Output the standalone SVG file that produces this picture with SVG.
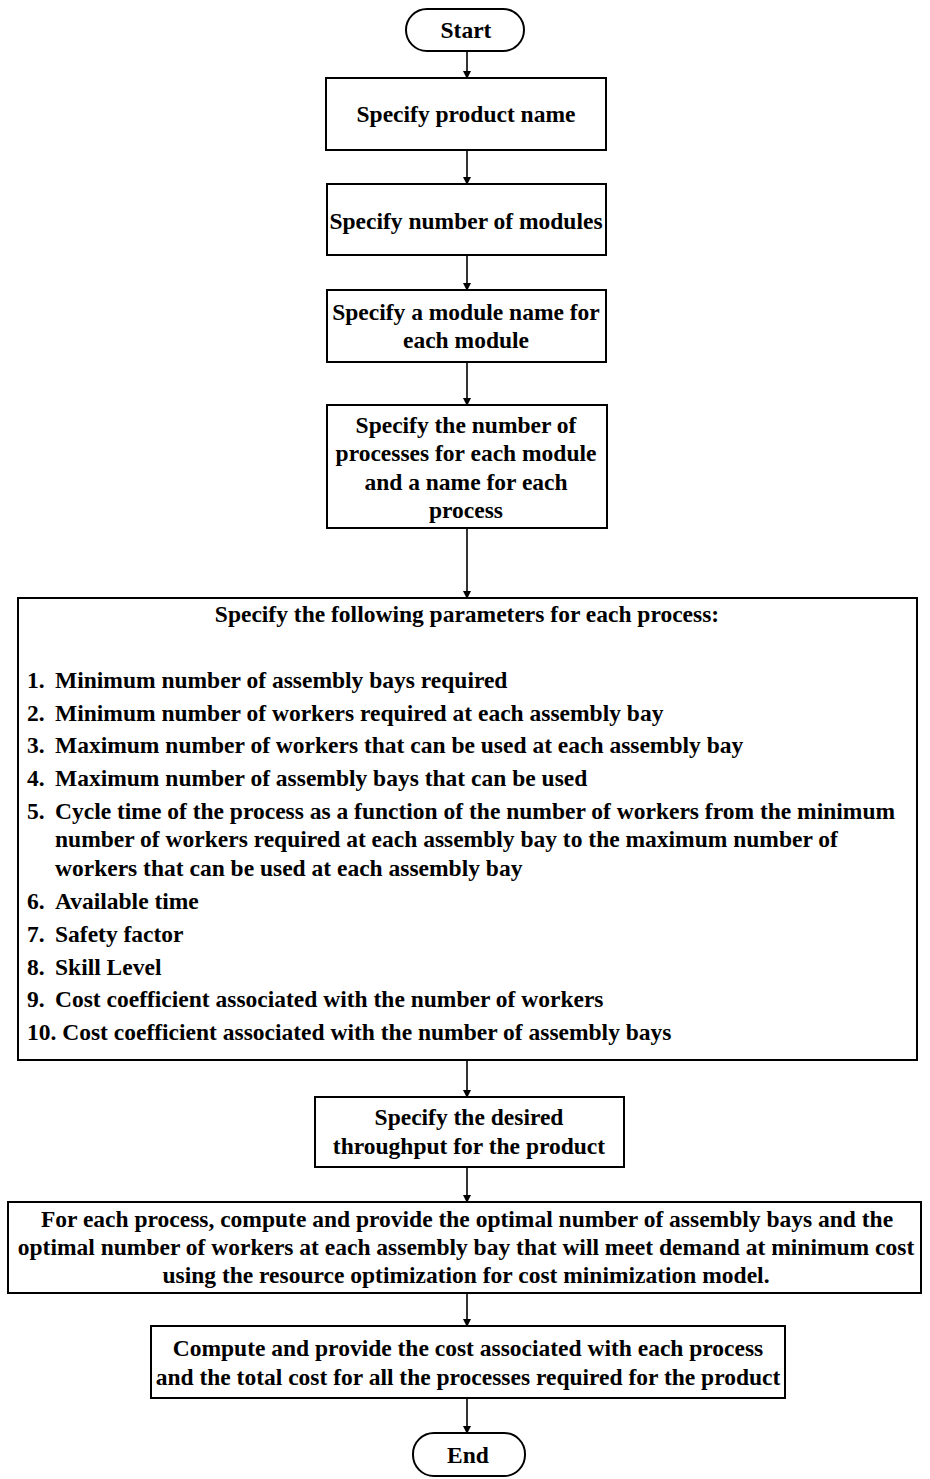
<svg xmlns="http://www.w3.org/2000/svg" width="930" height="1479" viewBox="0 0 930 1479">
  <style>
    .box { fill: #fff; stroke: #000; stroke-width: 2; }
    .t { font-family: "Liberation Serif", "Times New Roman", serif; font-weight: bold; font-size: 23.5px; fill: #000; }
    .c { text-anchor: middle; }
    .link { stroke: #000; stroke-width: 1.6; fill: none; marker-end: url(#arrow); }
  </style>
  <defs>
    <marker id="arrow" markerWidth="8" markerHeight="9" refX="7" refY="4.5" orient="auto" markerUnits="userSpaceOnUse">
      <path d="M0,0.5 L8,4.5 L0,8.5 Z" fill="#000"/>
    </marker>
  </defs>
  <rect width="930" height="1479" fill="#fff"/>

  <g id="connectors">
    <line class="link" x1="467" y1="51" x2="467" y2="78"/>
    <line class="link" x1="467" y1="150" x2="467" y2="184"/>
    <line class="link" x1="467" y1="255" x2="467" y2="290"/>
    <line class="link" x1="467" y1="362" x2="467" y2="405"/>
    <line class="link" x1="467" y1="528" x2="467" y2="598"/>
    <line class="link" x1="467" y1="1060" x2="467" y2="1097"/>
    <line class="link" x1="467" y1="1167" x2="467" y2="1202"/>
    <line class="link" x1="467" y1="1293" x2="467" y2="1326"/>
    <line class="link" x1="467" y1="1398" x2="467" y2="1433"/>
  </g>

  <g id="start">
    <rect class="box" x="406" y="9" width="118" height="42" rx="21" ry="21"/>
    <text class="t c" x="466" y="38">Start</text>
  </g>

  <g id="product-name">
    <rect class="box" x="326" y="78" width="280" height="72"/>
    <text class="t c" x="466" y="122">Specify product name</text>
  </g>

  <g id="module-count">
    <rect class="box" x="327" y="184" width="279" height="71"/>
    <text class="t c" x="466" y="229">Specify number of modules</text>
  </g>

  <g id="module-names">
    <rect class="box" x="327" y="290" width="279" height="72"/>
    <text class="t c" x="466" y="320">Specify a module name for</text>
    <text class="t c" x="466" y="348">each module</text>
  </g>

  <g id="process-names">
    <rect class="box" x="327" y="405" width="280" height="123"/>
    <text class="t c" x="466" y="433">Specify the number of</text>
    <text class="t c" x="466" y="461">processes for each module</text>
    <text class="t c" x="466" y="490">and a name for each</text>
    <text class="t c" x="466" y="518">process</text>
  </g>

  <g id="process-parameters">
    <rect class="box" x="18" y="598" width="899" height="462"/>
    <text class="t c" x="467" y="622">Specify the following parameters for each process:</text>
    <text class="t" y="688"><tspan x="27">1.</tspan><tspan x="55">Minimum number of assembly bays required</tspan></text>
    <text class="t" y="721"><tspan x="27">2.</tspan><tspan x="55">Minimum number of workers required at each assembly bay</tspan></text>
    <text class="t" y="753"><tspan x="27">3.</tspan><tspan x="55">Maximum number of workers that can be used at each assembly bay</tspan></text>
    <text class="t" y="786"><tspan x="27">4.</tspan><tspan x="55">Maximum number of  assembly bays that can be used</tspan></text>
    <text class="t" y="819"><tspan x="27">5.</tspan><tspan x="55">Cycle time of the process as a function of the number of workers from the minimum</tspan></text>
    <text class="t" x="55" y="847">number of workers required at each assembly bay to the maximum number of</text>
    <text class="t" x="55" y="876">workers that can be used at each assembly bay</text>
    <text class="t" y="909"><tspan x="27">6.</tspan><tspan x="55">Available time</tspan></text>
    <text class="t" y="942"><tspan x="27">7.</tspan><tspan x="55">Safety factor</tspan></text>
    <text class="t" y="975"><tspan x="27">8.</tspan><tspan x="55">Skill Level</tspan></text>
    <text class="t" y="1007"><tspan x="27">9.</tspan><tspan x="55">Cost coefficient associated with the number of workers</tspan></text>
    <text class="t" x="27" y="1040">10. Cost coefficient associated with the number of assembly bays</text>
  </g>

  <g id="throughput">
    <rect class="box" x="315" y="1097" width="309" height="70"/>
    <text class="t c" x="469" y="1125">Specify the desired</text>
    <text class="t c" x="469" y="1154">throughput for the product</text>
  </g>

  <g id="optimization">
    <rect class="box" x="8" y="1202" width="913" height="91"/>
    <text class="t c" x="467" y="1227">For each process, compute and provide the optimal number of assembly bays and the</text>
    <text class="t c" x="466" y="1255">optimal number of workers at each assembly bay that will meet demand at minimum cost</text>
    <text class="t c" x="466" y="1283">using the resource optimization for cost minimization model.</text>
  </g>

  <g id="cost-report">
    <rect class="box" x="151" y="1326" width="634" height="72"/>
    <text class="t c" x="468" y="1356">Compute and provide the cost associated with each process</text>
    <text class="t c" x="468" y="1385">and the total cost for all the processes required for the product</text>
  </g>

  <g id="end">
    <rect class="box" x="413" y="1433" width="112" height="43" rx="21" ry="21"/>
    <text class="t c" x="468" y="1463">End</text>
  </g>
</svg>
